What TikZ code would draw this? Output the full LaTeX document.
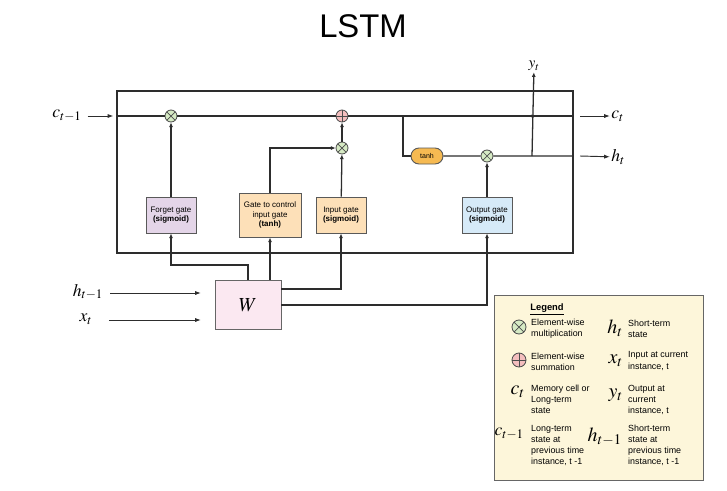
\documentclass[tikz,border=0pt]{standalone}
\usepackage{mathptmx}
\usepackage[no-math]{fontspec}
\setmainfont{Liberation Sans}
\usetikzlibrary{arrows.meta, positioning, shapes.misc}
\definecolor{mult_green}{RGB}{214, 234, 196}
\definecolor{add_pink}{RGB}{244, 190, 190}
\definecolor{forget_purple}{RGB}{228, 213, 232}
\definecolor{input_orange}{RGB}{253, 224, 184}
\definecolor{output_blue}{RGB}{214, 234, 248}
\definecolor{tanh_orange}{RGB}{246, 186, 82}
\definecolor{weight_pink}{RGB}{251, 232, 241}
\definecolor{legend_yellow}{RGB}{253, 246, 218}
\definecolor{line_gray}{RGB}{45, 45, 45}
\tikzset{
    gate_node/.style={
        draw=black!65,
        line width=0.8pt,
        minimum width=1.5cm,
        minimum height=1.08cm,
        inner sep=1pt,
        align=center,
        font=\fontsize{6.8}{8}\selectfont
    },
    mult_node/.style={
        circle,
        draw=black!70,
        fill=mult_green,
        line width=0.7pt,
        minimum size=0.36cm,
        inner sep=0pt,
        path picture={
            \draw[black!70, line width=0.6pt]
                (path picture bounding box.north west) -- (path picture bounding box.south east)
                (path picture bounding box.north east) -- (path picture bounding box.south west);
        }
    },
    add_node/.style={
        circle,
        draw=black!70,
        fill=add_pink,
        line width=0.7pt,
        minimum size=0.36cm,
        inner sep=0pt,
        path picture={
            \draw[black!70, line width=0.6pt]
                (path picture bounding box.north) -- (path picture bounding box.south)
                (path picture bounding box.west) -- (path picture bounding box.east);
        }
    },
    main_line/.style={
        line width=1.1pt,
        draw=line_gray
    },
    main_arrow/.style={
        -{Latex[length=4pt,width=3.5pt]},
        line width=1.1pt,
        draw=line_gray
    },
    outer_arrow/.style={
        -{Latex[length=5pt,width=3.5pt]},
        line width=0.8pt,
        draw=line_gray
    },
    math_label/.style={
        inner sep=1pt,
        font=\fontsize{15}{18}\selectfont
    },
    legend_text/.style={
        anchor=west,
        align=left,
        inner sep=0pt,
        font=\fontsize{7.6}{9.4}\selectfont
    },
    legend_sym/.style={
        anchor=east,
        inner sep=0pt,
        font=\fontsize{17}{20}\selectfont
    }
}

\begin{document}
\begin{tikzpicture}[x=0.03cm, y=-0.03cm]
\useasboundingbox (0,0) rectangle (727,490);

% Title
\node[font=\fontsize{28}{32}\selectfont] (title) at (363,26) {LSTM};

% LSTM cell
\node[draw=line_gray, line width=1pt, minimum width=13.68cm, minimum height=4.86cm] (cell) at (345,172) {};

% Pointwise operations
\node[mult_node] (fmult) at (171,116) {};
\node[add_node] (add) at (342,116) {};
\node[mult_node] (imult) at (342,148) {};
\node[mult_node] (omult) at (487,156) {};
\node[rounded rectangle, draw=black!65, fill=tanh_orange, line width=0.8pt, minimum width=0.96cm, minimum height=0.48cm, inner sep=0pt, font=\fontsize{6}{7}\selectfont] (tanh) at (427,156) {tanh};

% Gates
\node[gate_node, fill=forget_purple] (fgate) at (171,215) {Forget gate\\\textbf{(sigmoid)}};
\node[gate_node, fill=input_orange, minimum width=1.86cm, minimum height=1.32cm] (cgate) at (270,215) {Gate to control\\input gate\\\textbf{(tanh)}};
\node[gate_node, fill=input_orange] (igate) at (341,215) {Input gate\\\textbf{(sigmoid)}};
\node[gate_node, fill=output_blue] (ogate) at (487,215) {Output gate\\\textbf{(sigmoid)}};

% Weights
\node[draw=black!60, fill=weight_pink, line width=0.8pt, minimum width=1.98cm, minimum height=1.47cm, font=\fontsize{17}{20}\selectfont] (W) at (248,305) {$W$};

% Inputs and outputs
\node[math_label] (cprev) at (67,116) {$c_{t-1}$};
\node[math_label] (hprev) at (88,292) {$h_{t-1}$};
\node[math_label] (xin) at (86,319) {$x_t$};
\node[math_label, anchor=west] (cnext) at (610,116) {$c_t$};
\node[math_label, anchor=west] (hnext) at (610,157) {$h_t$};
\node[math_label, font=\fontsize{13}{15}\selectfont] (yout) at (534,66) {$y_t$};

\coordinate (c_in) at (117,116);
\coordinate (c_end) at (573,116);
\coordinate (h_end) at (573,156);
\coordinate (branch) at (403,116);
\coordinate (y_foot) at (532,156);
\coordinate (c_start) at (580,116);
\coordinate (h_start) at (580,156);
\coordinate (h_in) at (201,293);
\coordinate (x_in) at (201,320);

% Cell state line
\draw[outer_arrow, shorten <=4pt, shorten >=3pt] (cprev) -- (c_in);
\draw[main_line] (c_in) -- (fmult) -- (add) -- (c_end);
\draw[outer_arrow] (c_start) -- (cnext);

% Hidden state line
\draw[main_line] (branch) |- (tanh);
\draw[main_line] (tanh) -- (omult) -- (h_end);
\draw[outer_arrow] (h_start) -- (hnext);
\draw[main_arrow] (y_foot) -- (yout);
\fill[line_gray] (532,116) circle (1.3pt);

% Gate outputs
\draw[main_arrow] (fgate) -- (fmult);
\draw[main_arrow] (cgate.north) |- (imult);
\draw[main_arrow] (igate) -- (imult);
\draw[main_arrow] (imult) -- (add);
\draw[main_arrow] (ogate) -- (omult);

% Weights to gates
\draw[main_arrow] (W.north) -- ++(0,-15) -| (fgate.south);
\draw[main_arrow] (W.north -| cgate) -- (cgate.south);
\draw[main_arrow] ([yshift=0.48cm]W.east) -| (igate.south);
\draw[main_arrow] (W.east) -| (ogate.south);
\draw[outer_arrow, shorten <=5pt] (hprev.east |- h_in) -- (h_in);
\draw[outer_arrow, shorten <=13pt] (xin.east |- x_in) -- (x_in);

% Legend
\node[draw=black!60, fill=legend_yellow, line width=0.8pt, minimum width=6.27cm, minimum height=5.55cm] (legend) at (598.5,387.5) {};
\node[font=\fontsize{8}{10}\selectfont] (legend_title) at (547,309) {\underline{\textbf{Legend}}};

\node[mult_node, minimum size=0.42cm] (leg_mult) at (519,327) {};
\node[legend_text] at (531,329) {Element-wise\\multiplication};
\node[add_node, minimum size=0.42cm] (leg_add) at (519,360) {};
\node[legend_text] at (531,362) {Element-wise\\summation};
\node[legend_sym] at (525,392) {$c_t$};
\node[legend_text] at (531,399.5) {Memory cell or\\Long-term\\state};
\node[legend_sym, font=\fontsize{15}{18}\selectfont] at (524,434) {$c_{t-1}$};
\node[legend_text] at (531,445.5) {Long-term\\state at\\previous time\\instance, t -1};

\node[legend_sym] at (623,328) {$h_t$};
\node[legend_text] at (628,329) {Short-term\\state};
\node[legend_sym] at (623,361) {$x_t$};
\node[legend_text] at (628,361) {Input at current\\instance, t};
\node[legend_sym] at (623,395) {$y_t$};
\node[legend_text] at (628,399.5) {Output at\\current\\instance, t};
\node[legend_sym] at (622,437) {$h_{t-1}$};
\node[legend_text] at (628,445.5) {Short-term\\state at\\previous time\\instance, t -1};

\end{tikzpicture}
\end{document}
